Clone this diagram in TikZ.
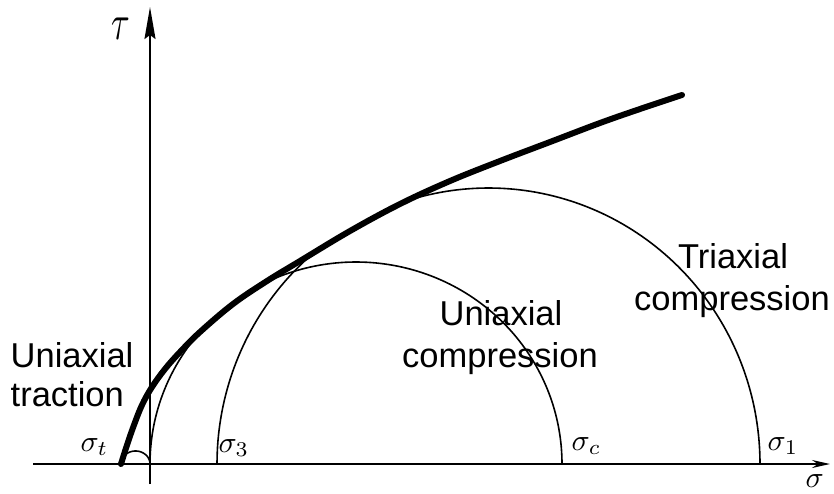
\documentclass[tikz,border=0pt]{standalone}
\usepackage{fontspec}
\setmainfont{Liberation Sans}
\usetikzlibrary{arrows.meta}
\tikzset{
  axisline/.style={line width=2pt, black},
  thinarc/.style={line width=1.6pt, black},
  envelope/.style={line width=6pt, black, line cap=round, line join=round},
  lbl/.style={inner sep=0pt, font=\fontsize{34.5}{40}\selectfont},
  sig/.style={inner sep=0pt, scale=3},
}
\begin{document}
\begin{tikzpicture}[x=1pt,y=-1pt]
\useasboundingbox (0,0) rectangle (834,494);
% axes
\coordinate (xs) at (33,464);
\coordinate (xe) at (830,464);
\coordinate (ys) at (150,484);
\coordinate (ye) at (150,7);
\draw[axisline,-{Stealth[length=18pt,width=8pt]}] (xs) -- (xe);
\draw[axisline,-{Stealth[length=32pt,width=11pt,inset=4pt]}] (ys) -- (ye);
% small circle (uniaxial traction)
\draw[thinarc] plot[domain=0:180,samples=60] ({135.5+14.5*cos(\x)},{464-13*sin(\x)});
% Mohr circles, kept below the envelope
\begin{scope}
\clip[yshift=2pt] plot[smooth,tension=0.6] coordinates {
  (121,464) (127,445) (134,425) (142,405) (152,387) (165,369) (180,352)
  (200,332) (233,304) (267,281) (300,261) (350,231) (400,204) (450,181)
  (500,161) (550,142) (600,123) (640,109) (682,95)}
  -- (834,95) -- (834,494) -- (0,494) -- (0,464) -- cycle;
% uniaxial compression circle
\draw[thinarc] plot[domain=0:180,samples=150] ({356+206*cos(\x)},{464-202*sin(\x)});
% triaxial compression circle
\draw[thinarc] plot[domain=0:180,samples=150] ({488.5+271.5*cos(\x)},{464-276*sin(\x)});
\end{scope}
% envelope
\draw[envelope] plot[smooth,tension=0.6] coordinates {
  (121,464) (127,445) (134,425) (142,405) (152,387) (165,369) (180,352)
  (200,332) (233,304) (267,281) (300,261) (350,231) (400,204) (450,181)
  (500,161) (550,142) (600,123) (640,109) (682,95)};
% labels
\node[lbl,anchor=base west] (ut1) at (10.5,367) {Uniaxial};
\node[lbl,anchor=base west] (ut2) at (10.5,406) {traction};
\node[lbl,anchor=base] (uc1) at (501,325) {Uniaxial};
\node[lbl,anchor=base] (uc2) at (500,367) {compression};
\node[lbl,anchor=base] (tc1) at (733,268) {Triaxial};
\node[lbl,anchor=base] (tc2) at (732,310) {compression};
\node[sig,anchor=base west] (st) at (80,451) {$\sigma_t$};
\node[sig,anchor=base west] (s3) at (218,452) {$\sigma_3$};
\node[sig,anchor=base west] (sc) at (571,450) {$\sigma_c$};
\node[sig,anchor=base west] (s1) at (767,450) {$\sigma_1$};
\node[sig,anchor=base west] (sx) at (805,487) {$\sigma$};
\node[inner sep=0pt,anchor=base west,xscale=3.4,yscale=5] (tau) at (111,40) {$\tau$};
\end{tikzpicture}
\end{document}
